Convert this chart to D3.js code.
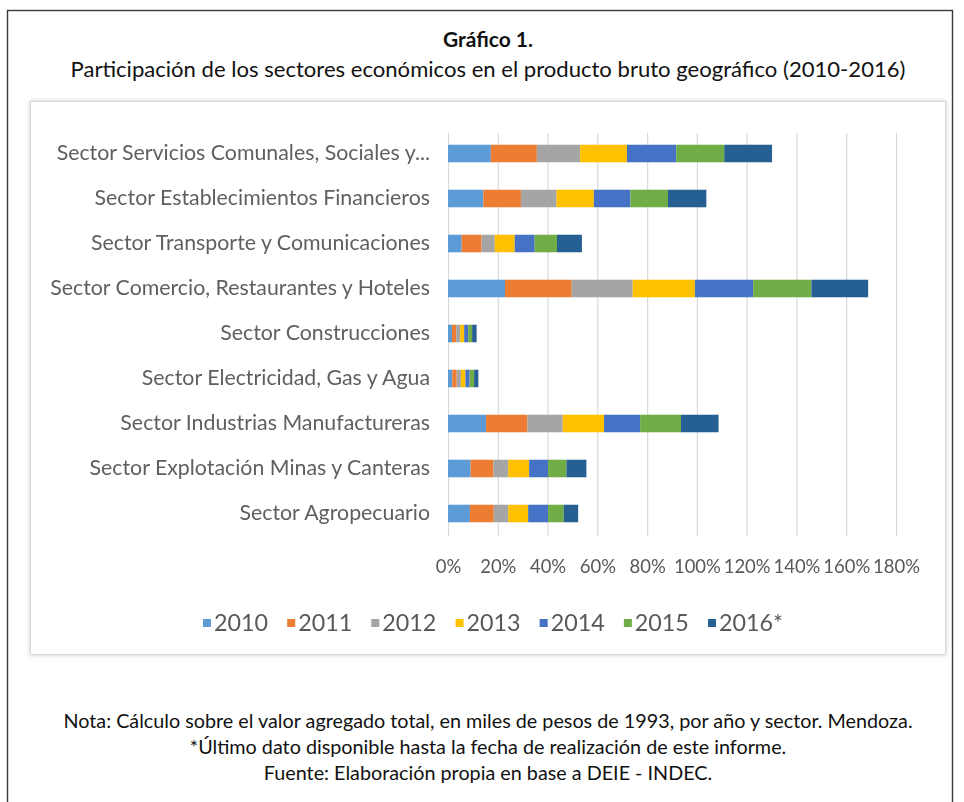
<!DOCTYPE html>
<html>
<head>
<meta charset="utf-8">
<script src="https://cdn.jsdelivr.net/npm/d3@7"></script>
<style>
  html, body { margin: 0; padding: 0; background: #fff; }
  svg { display: block; font-family: Lato, "Open Sans", "Noto Sans", sans-serif; }
</style>
</head>
<body>
<svg id="chart" width="964" height="802"></svg>
<script>
// Sectors, top to bottom
const sectors = [
  "Sector Servicios Comunales, Sociales y...",
  "Sector Establecimientos Financieros",
  "Sector Transporte y Comunicaciones",
  "Sector Comercio, Restaurantes y Hoteles",
  "Sector Construcciones",
  "Sector Electricidad, Gas y Agua",
  "Sector Industrias Manufactureras",
  "Sector Explotación Minas y Canteras",
  "Sector Agropecuario"
];

const years = ["2010", "2011", "2012", "2013", "2014", "2015", "2016*"];

// Share (%) of each sector per year, same order as `sectors`
const s2010 = [17.2, 14.2, 5.5, 22.9, 1.6, 1.7, 15.3, 9.1, 8.8];
const s2011 = [18.5, 15.1, 8.0, 26.8, 1.7, 1.8, 16.6, 9.1, 9.6];
const s2012 = [17.4, 14.3, 5.3, 24.5, 1.6, 1.7, 14.2, 6.0, 5.8];
const s2013 = [18.8, 15.0, 8.0, 25.0, 1.6, 1.8, 16.6, 8.4, 8.0];
const s2014 = [19.8, 14.7, 8.0, 23.4, 1.6, 1.7, 14.5, 7.6, 8.0];
const s2015 = [19.3, 15.1, 9.0, 23.4, 1.6, 1.8, 16.4, 7.4, 6.3];
const s2016 = [19.2, 15.4, 10.0, 22.8, 1.8, 1.7, 15.1, 8.0, 5.8];

const tickValues = [0, 20, 40, 60, 80, 100, 120, 140, 160, 180];

const colors = ["#5B9BD5", "#ED7D31", "#A5A5A5", "#FFC000", "#4472C4", "#70AD47", "#255E91"];

const title = "Gráfico 1.";
const subtitle = "Participación de los sectores económicos en el producto bruto geográfico (2010-2016)";
const notes = [
  "Nota: Cálculo sobre el valor agregado total, en miles de pesos de 1993, por año y sector. Mendoza.",
  "*Último dato disponible hasta la fecha de realización de este informe.",
  "Fuente: Elaboración propia en base a DEIE - INDEC."
];

// Build row objects for d3.stack
const seriesByYear = [s2010, s2011, s2012, s2013, s2014, s2015, s2016];
const rows = sectors.map((name, i) => {
  const r = { sector: name };
  years.forEach((yr, k) => { r[yr] = seriesByYear[k][i]; });
  return r;
});

const svg = d3.select("#chart");

// Font size that makes a text node span a given width
function fitSize(sel, width, base = 20) {
  sel.style("font-size", base + "px");
  const w = sel.node().getComputedTextLength();
  const size = base * width / w;
  sel.style("font-size", size + "px");
  return size;
}

const defs = svg.append("defs");
const shadow = defs.append("filter").attr("id", "boxShadow")
  .attr("x", "-5%").attr("y", "-5%").attr("width", "110%").attr("height", "110%");
shadow.append("feDropShadow").attr("dx", 0).attr("dy", 0)
  .attr("stdDeviation", 2.2).attr("flood-color", "#000").attr("flood-opacity", 0.22);
const soft = defs.append("filter").attr("id", "soft")
  .attr("x", "-2%").attr("y", "-2%").attr("width", "104%").attr("height", "104%");
soft.append("feGaussianBlur").attr("stdDeviation", 0.55);

// Outer frame
svg.append("rect")
  .attr("x", 7.5).attr("y", 10.5).attr("width", 945).attr("height", 830)
  .attr("fill", "#fff").attr("stroke", "#3a3a3a").attr("stroke-width", 1.4);

// Headings
const cx = 488;
const t1 = svg.append("text").attr("x", cx).attr("y", 47)
  .attr("text-anchor", "middle").attr("font-weight", "bold").attr("fill", "#111")
  .text(title);
fitSize(t1, 90);
const t2 = svg.append("text").attr("x", cx).attr("y", 77)
  .attr("text-anchor", "middle").attr("fill", "#111")
  .text(subtitle);
fitSize(t2, 835);

// Chart box
svg.append("rect")
  .attr("x", 30.5).attr("y", 101.5).attr("width", 915).attr("height", 553)
  .attr("fill", "#fff").attr("stroke", "#d9d9d9").attr("stroke-width", 1)
  .attr("filter", "url(#boxShadow)");

const g = svg.append("g").attr("filter", "url(#soft)");

const x = d3.scaleLinear().domain([0, 180]).range([448, 896]);
const y = d3.scaleBand().domain(sectors).range([131, 536])
  .paddingInner(0.61).paddingOuter(0.305);

const gridTop = 133, gridBottom = 536;

// Gridlines + tick labels
const xAxis = g.append("g").attr("transform", `translate(0,${gridBottom})`)
  .call(d3.axisBottom(x).tickValues(tickValues)
    .tickSize(-(gridBottom - gridTop)).tickFormat(d => d + "%"));
xAxis.select(".domain").remove();
xAxis.selectAll(".tick line").attr("stroke", "#d9d9d9").attr("stroke-width", 1.2);
const tickText = xAxis.selectAll(".tick text")
  .attr("y", 31).attr("dy", "0.35em").attr("fill", "#595959")
  .style("font-family", "Lato, 'Open Sans', sans-serif");
const tickSize = fitSize(xAxis.selectAll(".tick text").filter(d => d === 100), 47);
tickText.style("font-size", tickSize + "px");

// Stacked bars
const stack = d3.stack().keys(years);
const layers = stack(rows);

g.selectAll("g.layer").data(layers).join("g")
  .attr("class", "layer")
  .attr("fill", (d, i) => colors[i])
  .selectAll("rect").data(d => d).join("rect")
  .attr("x", d => x(d[0]))
  .attr("width", d => x(d[1]) - x(d[0]))
  .attr("y", d => y(d.data.sector))
  .attr("height", y.bandwidth());

// Category labels
const yAxis = g.append("g").attr("transform", "translate(430,0)")
  .call(d3.axisLeft(y).tickSize(0).tickPadding(0));
yAxis.select(".domain").remove();
const catText = yAxis.selectAll(".tick text")
  .attr("fill", "#5f5f5f")
  .style("font-family", "Lato, 'Open Sans', sans-serif");
const catSize = fitSize(yAxis.selectAll(".tick text")
  .filter(d => d === "Sector Comercio, Restaurantes y Hoteles"), 380);
catText.style("font-size", catSize + "px");

// Legend
const legendX = d3.scalePoint().domain(years).range([203, 708]);
const legend = g.append("g");
const items = legend.selectAll("g").data(years).join("g")
  .attr("transform", d => `translate(${legendX(d)},623)`);
items.append("rect")
  .attr("x", 0).attr("y", -4).attr("width", 8).attr("height", 8)
  .attr("fill", (d, i) => colors[i]);
const legText = items.append("text")
  .attr("x", 11).attr("dy", "0.36em").attr("fill", "#595959")
  .text(d => d);
const legSize = fitSize(legText.filter(d => d === "2016*"), 64);
legText.style("font-size", legSize + "px");

// Notes under the chart
const noteY = [721, 747, 773];
const noteText = svg.selectAll("text.note").data(notes).join("text")
  .attr("class", "note")
  .attr("x", cx).attr("y", (d, i) => noteY[i]).attr("dy", "0.35em")
  .attr("text-anchor", "middle").attr("fill", "#111")
  .text(d => d);
const noteSize = fitSize(noteText.filter((d, i) => i === 0), 850);
noteText.style("font-size", noteSize + "px");
</script>
</body>
</html>
